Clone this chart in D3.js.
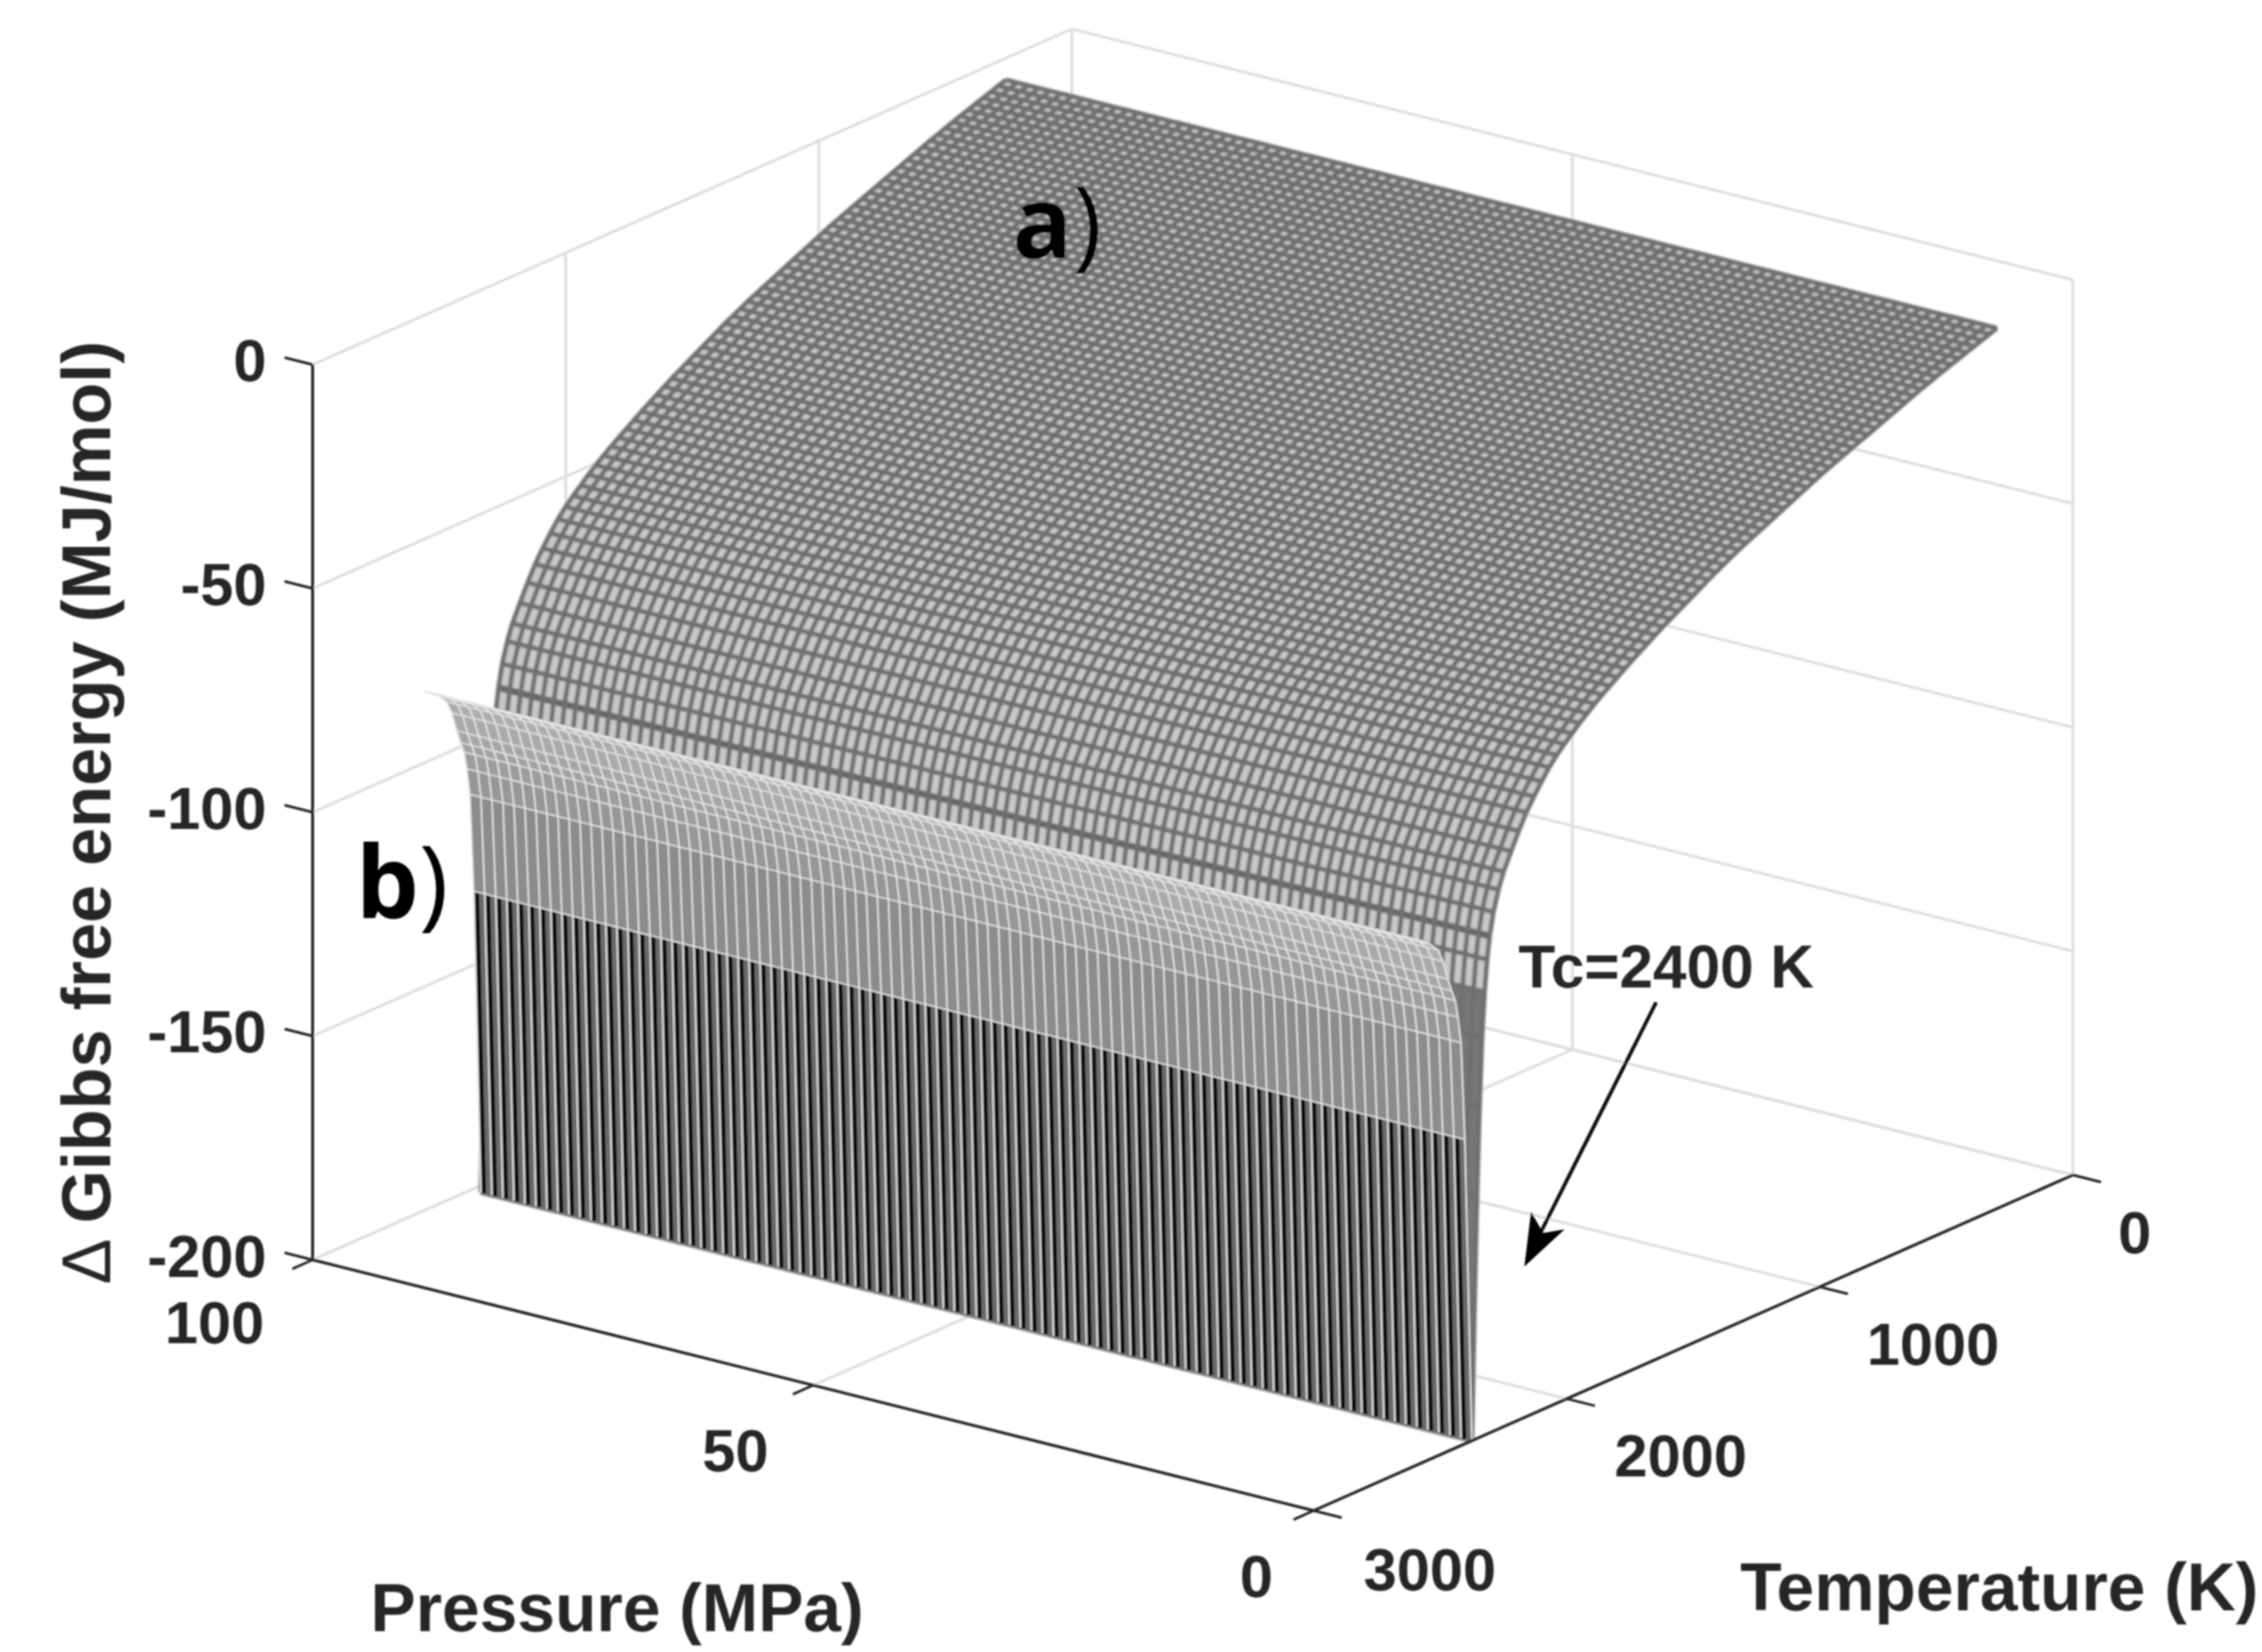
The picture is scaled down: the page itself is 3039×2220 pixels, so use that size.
<!DOCTYPE html>
<html>
<head>
<meta charset="utf-8">
<title>Gibbs free energy surface</title>
<script src="https://cdn.jsdelivr.net/npm/d3@7"></script>
<style>
  body { margin: 0; background: white; }
  text { font-family: "Liberation Sans", Arial, sans-serif; font-weight: bold; fill: #262626; }
  .panel-tag { font-family: "Open Sans", "Noto Sans", sans-serif; fill: black; }
</style>
</head>
<body>
<div id="visualization"></div>
<script>
// tick values on the three axes
const pressureTicks = [0, 50, 100];
const temperatureTicks = [0, 1000, 2000, 3000];
const gibbsTicks = [0, -50, -100, -150, -200];

// pressure columns of the mesh (MPa)
const pressureGrid = d3.range(0, 99.1, 1.1);

// surface a): rows below Tc, read off the edges of the surface
const aTemps = [300, 330, 360, 390, 420, 450, 480, 510, 540, 570, 600, 630, 660, 690, 720, 750, 780, 810, 840, 870,
    900, 930, 960, 990, 1020, 1050, 1080, 1110, 1140, 1170, 1200, 1230, 1260, 1290, 1320, 1350, 1380, 1410, 1440, 1470,
    1500, 1530, 1560, 1590, 1620, 1650, 1680, 1710, 1740, 1770, 1800, 1830, 1860, 1890, 1920, 1950, 1980, 2010, 2040,
    2070, 2100, 2130, 2160, 2190, 2220, 2250, 2270, 2290, 2305, 2315, 2325, 2335, 2345, 2355, 2365, 2375];
const aGibbs = [-3.3, -3.9, -4.5, -5.1, -5.7, -6.3, -6.9, -7.5, -8.1, -8.8, -9.4, -10.1, -10.8, -11.5, -12.2, -12.9, -13.6, -14.3, -15.0, -15.7,
    -16.4, -17.1, -17.8, -18.5, -19.3, -20.1, -20.9, -21.7, -22.5, -23.3, -24.1, -24.9, -25.7, -26.5, -27.3, -28.2, -29.1, -30.0, -31.0, -32.0,
    -33.0, -34.0, -35.0, -36.0, -37.0, -38.1, -39.2, -40.3, -41.4, -42.6, -43.8, -45.0, -46.2, -47.5, -48.9, -50.3, -51.9, -53.5, -55.2,
    -57.2, -59.6, -62.2, -65.0, -68.4, -72.2, -76.0, -79.5, -84, -89, -94, -101, -111, -126, -146, -171, -200];
// rows that show as a darker band on the surface
const aDarkRows = [2305];

// surface b): rows above Tc, from the wall up to the rim
const bTemps = [2375, 2403, 2418, 2430, 2441, 2455, 2470, 2490, 2510, 2540, 2570, 2600];
const bGibbs = [-200, -132, -110, -104, -100, -97.5, -94.5, -90, -87, -85, -83.5, -82.5];
const bBandFill = ["#6a6a6a", "#8c8c8c", "#979797", "#9d9d9d", "#a2a2a2", "#a6a6a6", "#aaaaaa", "#adadad", "#b0b0b0", "#b0b0b0", "#b0b0b0"];

const svg = d3
    .select("#visualization")
    .append("svg")
    .attr("width", 3039)
    .attr("height", 2220);

const defs = svg.append("defs");
function addBlur(id, amount) {
    defs.append("filter")
        .attr("id", id)
        .attr("x", "0").attr("y", "0").attr("width", "3039").attr("height", "2220")
        .attr("filterUnits", "userSpaceOnUse")
        .append("feGaussianBlur")
        .attr("stdDeviation", amount);
}
addBlur("soft", 1.1);
addBlur("softer", 1.2);

// oblique projection: each data axis adds its own screen offset
const pX = d3.scaleLinear().domain([0, 100]).range([1765, 420]);
const pY = d3.scaleLinear().domain([0, 100]).range([2030, 1693]);
const tX = d3.scaleLinear().domain([0, 3000]).range([1020, 0]);
const tY = d3.scaleLinear().domain([0, 3000]).range([-451, 0]);
const gY = d3.scaleLinear().domain([-200, 0]).range([0, -1203]);

function project(p, t, g) {
    return [pX(p) + tX(t), pY(p) + tY(t) + gY(g)];
}

const line = d3.line();
const root = svg.append("g").attr("filter", "url(#soft)");
const wallLayer = root.append("g").attr("id", "walls");
const surfaceLayer = root.append("g").attr("id", "surface");
const axisLayer = root.append("g").attr("id", "axes");
const labelLayer = root.append("g").attr("id", "labels");

function drawSegment(layer, a, b, color, width) {
    layer.append("path")
        .attr("d", line([a, b]))
        .attr("fill", "none")
        .attr("stroke", color)
        .attr("stroke-width", width);
}

function drawWalls() {
    const gridColor = "#e0e0e0";
    gibbsTicks.forEach(g => {
        drawSegment(wallLayer, project(100, 3000, g), project(100, 0, g), gridColor, 4);
        drawSegment(wallLayer, project(100, 0, g), project(0, 0, g), gridColor, 4);
    });
    temperatureTicks.forEach(t => {
        drawSegment(wallLayer, project(100, t, -200), project(100, t, 0), gridColor, 4);
        drawSegment(wallLayer, project(100, t, -200), project(0, t, -200), gridColor, 4);
    });
    pressureTicks.forEach(p => {
        drawSegment(wallLayer, project(p, 0, -200), project(p, 0, 0), gridColor, 4);
        drawSegment(wallLayer, project(p, 3000, -200), project(p, 0, -200), gridColor, 4);
    });
}

function band(t0, g0, t1, g1) {
    const pMin = pressureGrid[0];
    const pMax = pressureGrid[pressureGrid.length - 1];
    return line([project(pMin, t0, g0), project(pMax, t0, g0), project(pMax, t1, g1), project(pMin, t1, g1)]) + "Z";
}

function drawSurfaceA() {
    const layer = surfaceLayer.append("g").attr("id", "surface_a").attr("filter", "url(#softer)");
    const rows = d3.range(aTemps.length - 1);
    layer.selectAll("path.band")
        .data(rows)
        .enter()
        .append("path")
        .attr("class", "band")
        .attr("d", i => band(aTemps[i], aGibbs[i], aTemps[i + 1], aGibbs[i + 1]))
        .attr("fill", i => aGibbs[i] < -100 ? "#767676" : "#c8c8c8");

    // pressure lines
    layer.selectAll("path.row")
        .data(aTemps)
        .enter()
        .append("path")
        .attr("class", "row")
        .attr("d", (t, i) => line(pressureGrid.map(p => project(p, t, aGibbs[i]))))
        .attr("fill", "none")
        .attr("stroke", d => aDarkRows.includes(d) ? "#666666" : "#707070")
        .attr("stroke-width", d => aDarkRows.includes(d) ? 9 : 6.2);

    // temperature lines
    layer.selectAll("path.col")
        .data(pressureGrid)
        .enter()
        .append("path")
        .attr("class", "col")
        .attr("d", p => line(aTemps.map((t, i) => project(p, t, aGibbs[i]))))
        .attr("fill", "none")
        .attr("stroke", "#707070")
        .attr("stroke-width", 6.2);
}

function drawSurfaceB() {
    const layer = surfaceLayer.append("g").attr("id", "surface_b");
    const rows = d3.range(bTemps.length - 1);
    layer.selectAll("path.band")
        .data(rows)
        .enter()
        .append("path")
        .attr("class", "band")
        .attr("d", i => band(bTemps[i], bGibbs[i], bTemps[i + 1], bGibbs[i + 1]))
        .attr("fill", i => bBandFill[i]);

    // black shading beside each column in the wall facet
    const step = pressureGrid[1] - pressureGrid[0];
    layer.selectAll("path.shade")
        .data(pressureGrid.slice(1))
        .enter()
        .append("path")
        .attr("class", "shade")
        .attr("d", p => line([project(p - step * 0.3, bTemps[0], bGibbs[0]), project(p - step * 0.3, bTemps[1], bGibbs[1])]))
        .attr("fill", "none")
        .attr("stroke", "#0c0c0c")
        .attr("stroke-width", 5.5);

    layer.selectAll("path.row")
        .data(bTemps.slice(1))
        .enter()
        .append("path")
        .attr("class", "row")
        .attr("d", (t, i) => line(pressureGrid.map(p => project(p, t, bGibbs[i + 1]))))
        .attr("fill", "none")
        .attr("stroke", "#dedede")
        .attr("stroke-width", 2);

    layer.selectAll("path.col")
        .data(pressureGrid)
        .enter()
        .append("path")
        .attr("class", "col")
        .attr("d", p => line(bTemps.map((t, i) => project(p, t, bGibbs[i]))))
        .attr("fill", "none")
        .attr("stroke", "#e4e4e4")
        .attr("stroke-width", 2.2);
}

function drawAxes() {
    const axisColor = "#262626";
    drawSegment(axisLayer, project(100, 3000, -200), project(100, 3000, 0), axisColor, 4);
    drawSegment(axisLayer, project(100, 3000, -200), project(0, 3000, -200), axisColor, 4);
    drawSegment(axisLayer, project(0, 3000, -200), project(0, 0, -200), axisColor, 4);

    // ticks run along the neighbouring axis, 2.5% of its length
    gibbsTicks.forEach(g => drawSegment(axisLayer, project(100, 3000, g), project(102.8, 3000, g), axisColor, 3.5));
    pressureTicks.forEach(p => drawSegment(axisLayer, project(p, 3000, -200), project(p, 3080, -200), axisColor, 3.5));
    temperatureTicks.forEach(t => drawSegment(axisLayer, project(0, t, -200), project(-2.8, t, -200), axisColor, 3.5));
}

function addLabel(x, y, text, anchor, size) {
    return labelLayer.append("text")
        .attr("x", x)
        .attr("y", y)
        .attr("text-anchor", anchor)
        .attr("font-size", size)
        .text(text);
}

function drawLabels() {
    const gibbsLabelY = [512, 813, 1114, 1414, 1716];
    gibbsTicks.forEach((g, i) => addLabel(358, gibbsLabelY[i], g, "end", 80));

    addLabel(355, 1805, "100", "end", 80);
    addLabel(988, 1977, "50", "middle", 80);
    addLabel(1688, 2146, "0", "middle", 80);

    addLabel(2868, 1684, "0", "middle", 80);
    addLabel(2597, 1834, "1000", "middle", 80);
    addLabel(2258, 1984, "2000", "middle", 80);
    addLabel(1921, 2137, "3000", "middle", 80);

    addLabel(829, 2192, "Pressure (MPa)", "middle", 91);
    addLabel(2686, 2164, "Temperature (K)", "middle", 91);

    const gibbsTitle = labelLayer.append("text")
        .attr("transform", "translate(148,1092) rotate(-90)")
        .attr("text-anchor", "middle")
        .attr("font-size", 92);
    gibbsTitle.append("tspan").attr("font-weight", "normal").text("Δ ");
    gibbsTitle.append("tspan").text("Gibbs free energy (MJ/mol)");

    addLabel(2040, 1327, "Tc=2400 K", "start", 81).attr("fill", "#111");

    const tagA = labelLayer.append("text").attr("class", "panel-tag").attr("x", 1360).attr("y", 347).attr("font-size", 134);
    tagA.append("tspan").text("a");
    tagA.append("tspan").attr("font-weight", "normal").text(")");
    const tagB = labelLayer.append("text").attr("class", "panel-tag").attr("x", 478).attr("y", 1233).attr("font-size", 134);
    tagB.append("tspan").text("b");
    tagB.append("tspan").attr("font-weight", "normal").text(")");

    // arrow to the transition
    labelLayer.append("path")
        .attr("d", line([[2225, 1347], [2068, 1660]]))
        .attr("stroke", "#111")
        .attr("stroke-width", 5)
        .attr("fill", "none");
    labelLayer.append("path")
        .attr("d", line([[2048, 1702], [2057, 1628], [2073, 1657], [2102, 1652]]) + "Z")
        .attr("fill", "#000");
}

drawWalls();
drawSurfaceA();
drawSurfaceB();
drawAxes();
drawLabels();
</script>
</body>
</html>
